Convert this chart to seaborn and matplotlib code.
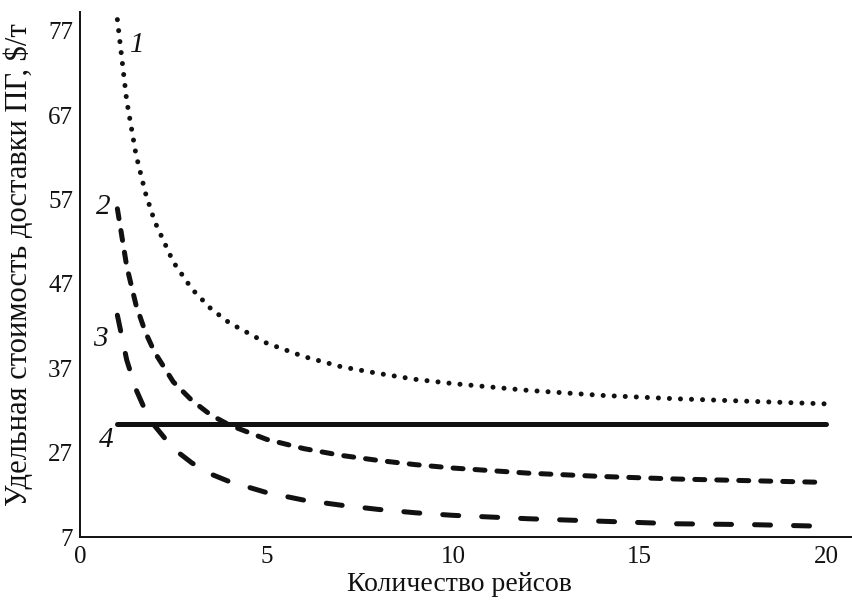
import numpy as np
import pandas as pd
import matplotlib
matplotlib.use("Agg")
import matplotlib.pyplot as plt
import seaborn as sns

# Number of trips
trips = [1, 1.25, 1.5, 1.75, 2, 2.5, 3, 3.5, 4, 5, 6, 7, 8, 9, 10, 12, 14, 16, 18, 20]

# Unit delivery cost, $/t, for each variant
cost_1 = [78.3, 68.7, 62.3, 57.8, 54.4, 49.6, 46.4, 44.1, 42.4, 40.0,
          38.4, 37.2, 36.4, 35.7, 35.2, 34.4, 33.8, 33.4, 33.1, 32.8]
cost_2 = [55.9, 49.1, 44.5, 41.3, 38.9, 35.4, 33.2, 31.5, 30.3, 28.6,
          27.5, 26.7, 26.1, 25.6, 25.2, 24.6, 24.2, 23.9, 23.7, 23.5]
cost_3 = [43.3, 38.0, 34.5, 32.0, 30.2, 27.5, 25.8, 24.5, 23.6, 22.3,
          21.4, 20.8, 20.3, 19.9, 19.6, 19.2, 18.9, 18.6, 18.5, 18.3]
cost_4_trips = [1, 20]
cost_4 = [30.4, 30.4]

curve_labels = ["1", "2", "3", "4"]

y_ticks = [17, 27, 37, 47, 57, 67, 77]
y_ticklabels = ["7", "27", "37", "47", "57", "67", "77"]
x_ticks = [0, 5, 10, 15, 20]

sns.set_theme(style="white")
plt.rcParams["font.family"] = ["Liberation Serif", "DejaVu Serif"]

fig = plt.figure(figsize=(8.52, 6.01), dpi=100)
ax = fig.add_axes([0.094, 0.106, 0.906, 0.874])

lw = 3.6
ink = "#111111"
df = pd.DataFrame({"x": trips, "c1": cost_1, "c2": cost_2, "c3": cost_3})

# 1: dotted
sns.lineplot(data=df, x="x", y="c1", ax=ax, color=ink, lw=lw)
ln = ax.lines[-1]
ln.set_linestyle((0, (0.01, 2.2)))
ln.set_dash_capstyle("round")

# 2: short dashes
sns.lineplot(data=df, x="x", y="c2", ax=ax, color=ink, lw=lw)
ln = ax.lines[-1]
ln.set_linestyle((0, (2.0, 2.4)))
ln.set_dash_capstyle("round")

# 3: long dashes
sns.lineplot(data=df, x="x", y="c3", ax=ax, color=ink, lw=lw)
ln = ax.lines[-1]
ln.set_linestyle((0, (3.2, 4.6)))
ln.set_dash_capstyle("round")

# 4: solid
sns.lineplot(x=cost_4_trips, y=cost_4, ax=ax, color=ink, lw=lw)
ax.lines[-1].set_solid_capstyle("round")

label_pos = [(1.53, 75.3), (0.62, 56.1), (0.54, 40.5), (0.70, 28.5)]
for lab, (lx, ly) in zip(curve_labels, label_pos):
    ax.text(lx, ly, lab, fontsize=21, style="italic", ha="center", va="center",
            color=ink)

ax.set_xlim(0, 20.7)
ax.set_ylim(17, 79.2)
ax.set_xticks(x_ticks)
ax.set_xticklabels([str(t) for t in x_ticks])
ax.set_yticks(y_ticks)
ax.set_yticklabels(y_ticklabels)

for s in ["top", "right"]:
    ax.spines[s].set_visible(False)
for s in ["left", "bottom"]:
    ax.spines[s].set_color(ink)
    ax.spines[s].set_linewidth(1.4)

ax.tick_params(axis="both", direction="in", length=7, width=1.0,
               colors=ink, labelsize=18)
ax.tick_params(axis="y", pad=5)
ax.tick_params(axis="x", pad=6)

ax.set_xlabel("Количество рейсов", fontsize=20, color=ink)
ax.set_ylabel("Удельная стоимость доставки ПГ, $/т", fontsize=22, color=ink)
ax.xaxis.set_label_coords(0.491, -0.066)
ax.yaxis.set_label_coords(-0.079, 0.519)
ax.yaxis.label.set_va("center")

fig.savefig("out.png", dpi=100)
